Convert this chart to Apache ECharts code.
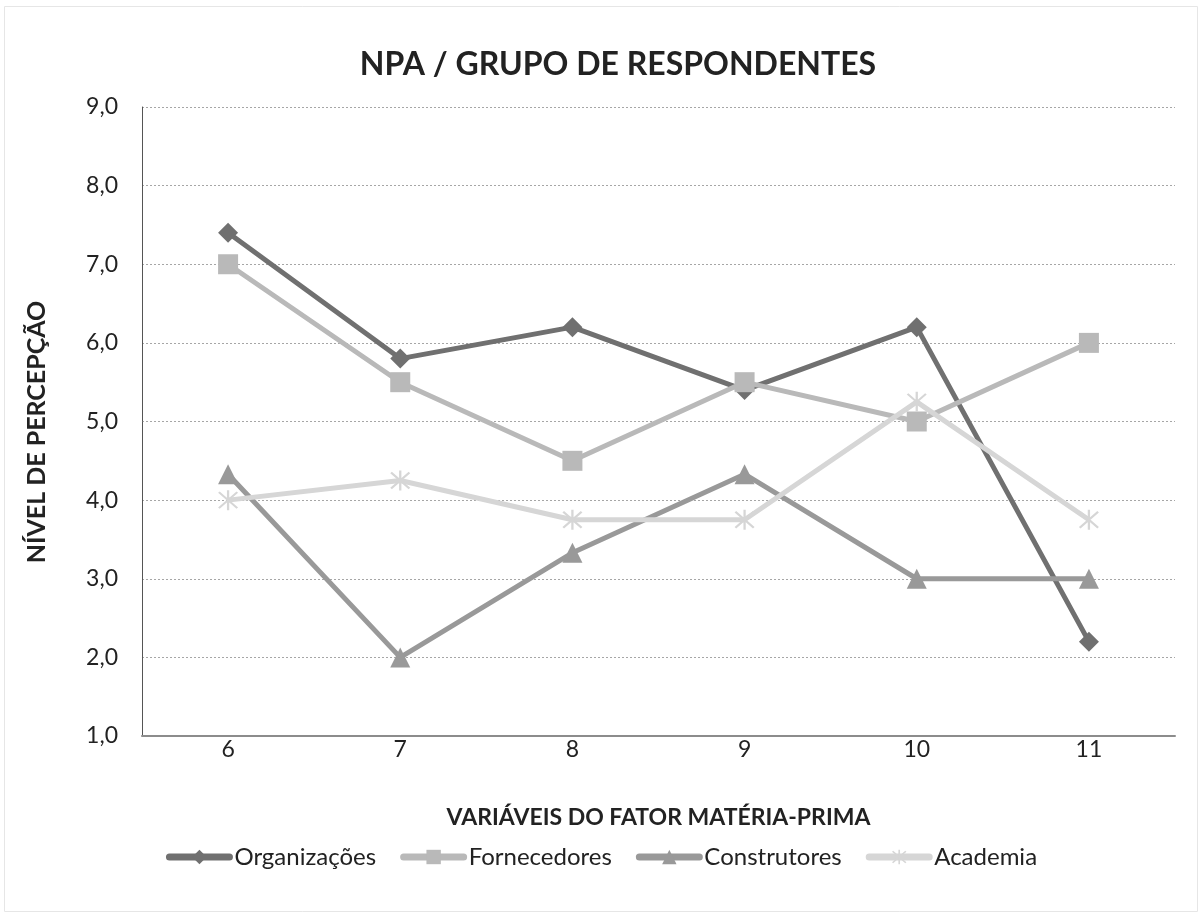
<!DOCTYPE html>
<html>
<head>
<meta charset="utf-8">
<script src="https://cdn.jsdelivr.net/npm/echarts@6/dist/echarts.min.js"></script>
<style>
    html, body { margin: 0; padding: 0; background: #fff; }
    #chart { width: 1203px; height: 918px; }
</style>
</head>
<body>
<div id="chart"></div>
<script>
    // dados
    const categorias = ['6', '7', '8', '9', '10', '11']
    const organizacoes = [7.4, 5.8, 6.2, 5.4, 6.2, 2.2]
    const fornecedores = [7.0, 5.5, 4.5, 5.5, 5.0, 6.0]
    const construtores = [4.33, 2.0, 3.33, 4.33, 3.0, 3.0]
    const academia = [4.0, 4.25, 3.75, 3.75, 5.25, 3.75]

    const fonte = 'Lato, "Open Sans", sans-serif'
    const asterisco = 'path://M-1,-10L1,-10L1,10L-1,10Z' +
        'M-7.3,-8.7L8.7,7.3L7.3,8.7L-8.7,-7.3Z' +
        'M7.3,-8.7L8.7,-7.3L-7.3,8.7L-8.7,7.3Z'

    function serie (nome, dados, cor, simbolo, tamanho) {
        return {
            name: nome,
            type: 'line',
            data: dados,
            symbol: simbolo,
            symbolSize: tamanho,
            lineStyle: { color: cor, width: 5 },
            itemStyle: { color: cor, borderColor: cor, borderWidth: 0 },
            emphasis: { disabled: true }
        }
    }

    const chart = echarts.init(document.getElementById('chart'))
    chart.setOption({
        backgroundColor: '#fff',
        animation: false,
        title: {
            text: 'NPA / GRUPO DE RESPONDENTES',
            left: 613,
            textAlign: 'center',
            top: 44,
            textStyle: { fontFamily: fonte, fontSize: 32, fontWeight: 'bold', color: '#222' }
        },
        graphic: [{
            type: 'rect',
            shape: { x: 4.5, y: 6.5, width: 1193, height: 905 },
            style: { fill: 'none', stroke: '#e6e6e6', lineWidth: 1 },
            silent: true
        }, {
            // título do eixo vertical
            type: 'text',
            x: 37,
            y: 432,
            rotation: Math.PI / 2,
            style: {
                text: 'NÍVEL DE PERCEPÇÃO',
                fontFamily: fonte, fontSize: 25, fontWeight: 'bold', fill: '#222',
                align: 'center', verticalAlign: 'middle'
            },
            silent: true
        }],
        legend: {
            bottom: 44,
            left: 'center',
            itemWidth: 60,
            itemHeight: 18,
            itemGap: 24,
            lineStyle: { width: 7, cap: 'round' },
            textStyle: { fontFamily: fonte, fontSize: 24, color: '#222' },
            data: ['Organizações', 'Fornecedores', 'Construtores', 'Academia']
        },
        grid: { left: 142, right: 28, top: 107, bottom: 182 },
        xAxis: {
            type: 'category',
            data: categorias,
            boundaryGap: true,
            name: 'VARIÁVEIS DO FATOR MATÉRIA-PRIMA',
            nameLocation: 'middle',
            nameGap: 70,
            nameTextStyle: { fontFamily: fonte, fontSize: 23, fontWeight: 'bold', color: '#222' },
            axisLine: { lineStyle: { color: '#8c8c8c', width: 2 } },
            axisTick: { show: false },
            axisLabel: { fontFamily: fonte, fontSize: 23, color: '#222', margin: 2 }
        },
        yAxis: {
            type: 'value',
            min: 1,
            max: 9,
            interval: 1,
            axisLine: { show: true, lineStyle: { color: '#555', width: 1 } },
            axisTick: { show: false },
            axisLabel: {
                fontFamily: fonte, fontSize: 23, color: '#222', margin: 24,
                formatter: v => v.toFixed(1).replace('.', ',')
            },
            splitLine: { lineStyle: { color: '#a6a6a6', type: [2, 2], width: 1 } }
        },
        series: [
            serie('Organizações', organizacoes, '#707070', 'diamond', 20),
            serie('Fornecedores', fornecedores, '#b9b9b9', 'rect', 20),
            serie('Construtores', construtores, '#999999', 'triangle', 20),
            serie('Academia', academia, '#d6d6d6', asterisco, 20)
        ]
    })
</script>
</body>
</html>
